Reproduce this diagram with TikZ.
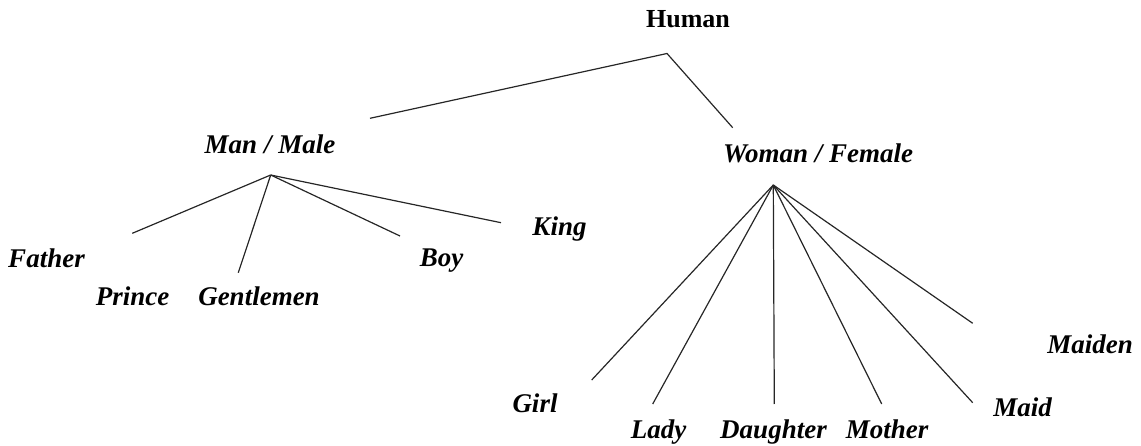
\documentclass[tikz,border=0pt]{standalone}
\usepackage{fontspec}
\setmainfont{Liberation Serif}
\begin{document}
\begin{tikzpicture}[x=1pt,y=-1pt,
  lbl/.style={font=\fontsize{27}{32}\selectfont\bfseries\itshape,inner sep=0pt,anchor=base},
  top/.style={font=\fontsize{26}{31}\selectfont\bfseries,inner sep=0pt,anchor=base},
  edge/.style={line width=1.2pt,draw=black!85}]
\useasboundingbox (0,0) rectangle (1141,446);
% labels
\node[top] (human) at (688,27.3) {Human};
\node[lbl] (man) at (270,154) {Man / Male};
\node[lbl] (woman) at (818,162.7) {Woman / Female};
\node[lbl] (father) at (46.5,267.7) {Father};
\node[lbl] (prince) at (132.5,306) {Prince};
\node[lbl] (gent) at (259,306) {Gentlemen};
\node[lbl] (boy) at (441.5,266.7) {Boy};
\node[lbl] (king) at (559.5,236) {King};
\node[lbl] (girl) at (535,413) {Girl};
\node[lbl] (lady) at (658.5,438) {Lady};
\node[lbl] (daughter) at (773.5,438) {Daughter};
\node[lbl] (mother) at (887,438) {Mother};
\node[lbl] (maid) at (1022.5,416.7) {Maid};
\node[lbl] (maiden) at (1090,354) {Maiden};
% connector points
\coordinate (hH) at (667,53.5);
\coordinate (hMan) at (370,118.3);
\coordinate (hWoman) at (732.7,127.7);
\coordinate (hubM) at (270.7,175);
\coordinate (eFather) at (132.3,233.3);
\coordinate (eGent) at (238.3,272.7);
\coordinate (eBoy) at (400,236);
\coordinate (eKing) at (501,222.7);
\coordinate (hubW) at (773.3,185);
\coordinate (eGirl) at (591.7,380);
\coordinate (eLady) at (652.7,404);
\coordinate (eDaughter) at (774.3,404);
\coordinate (eMother) at (881.7,404);
\coordinate (eMaid) at (972.7,402.7);
\coordinate (eMaiden) at (972.7,323.3);
% connectors
\draw[edge] (hMan) -- (hH) -- (hWoman);
\foreach \e in {eFather,eGent,eBoy,eKing}
  \draw[edge] (hubM) -- (\e);
\foreach \e in {eGirl,eLady,eDaughter,eMother,eMaid,eMaiden}
  \draw[edge] (hubW) -- (\e);
\end{tikzpicture}
\end{document}
